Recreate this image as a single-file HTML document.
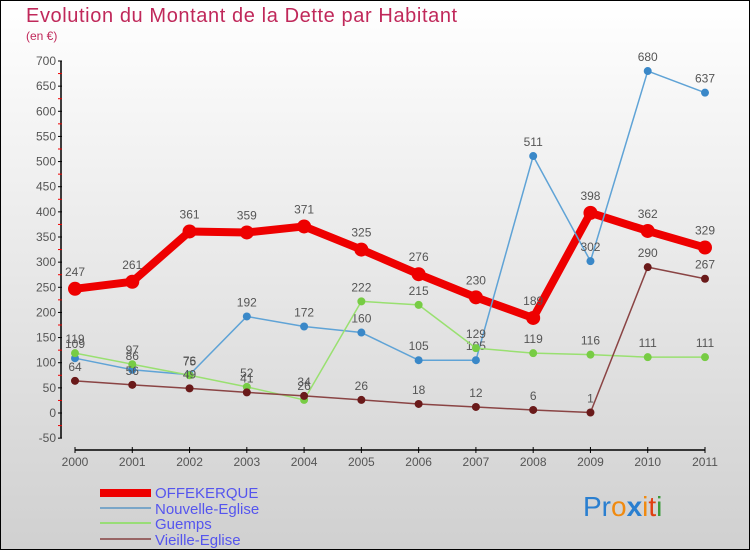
<!DOCTYPE html>
<html><head><meta charset="utf-8"><style>
html,body{margin:0;padding:0}
body{width:750px;height:550px;overflow:hidden;font-family:"Liberation Sans","DejaVu Sans",sans-serif}
</style></head><body>
<svg id="chart" width="750" height="550" viewBox="0 0 750 550" xmlns="http://www.w3.org/2000/svg">
<defs><linearGradient id="bg" x1="0" y1="0" x2="0" y2="1"><stop offset="0" stop-color="#ffffff"/><stop offset="1" stop-color="#d0d0d0"/></linearGradient></defs>
<rect x="0.5" y="0.5" width="749" height="549" fill="url(#bg)" stroke="#000"/>
<text x="26" y="22" font-size="20" fill="#c0285a" letter-spacing="0.6" font-weight="300">Evolution du Montant de la Dette par Habitant</text>
<text x="26" y="40" font-size="12" fill="#c0285a">(en €)</text>
<g id="axes"></g>
<g id="series"></g>
<g>
<rect x="100" y="489" width="51" height="8" fill="#e00"/>
<text x="155" y="498" font-size="15" fill="#5555ee">OFFEKERQUE</text>
<rect x="100" y="507" width="51" height="2" fill="#7aa6c8"/>
<text x="155" y="514" font-size="15" fill="#5555ee">Nouvelle-Eglise</text>
<rect x="100" y="522" width="51" height="2" fill="#99dd77"/>
<text x="155" y="529" font-size="15" fill="#5555ee">Guemps</text>
<rect x="100" y="538" width="51" height="2" fill="#996666"/>
<text x="155" y="545" font-size="15" fill="#5555ee">Vieille-Eglise</text>
</g>
<text x="583" y="516" font-size="28"><tspan fill="#2a7fd0">Pr</tspan><tspan fill="#f08a10">o</tspan><tspan fill="#2a7fd0" font-weight="bold">x</tspan><tspan fill="#f08a10">i</tspan><tspan fill="#e04010">t</tspan><tspan fill="#3a9a3a">i</tspan></text>
</svg>
<script>
const years = ["2000","2001","2002","2003","2004","2005","2006","2007","2008","2009","2010","2011"];
const offekerque = [247,261,361,359,371,325,276,230,189,398,362,329];
const nouvelleEglise = [109,86,76,192,172,160,105,105,511,302,680,637];
const guemps = [119,97,75,52,26,222,215,129,119,116,111,111];
const vieilleEglise = [64,56,49,41,34,26,18,12,6,1,290,267];
const yTicks = [-50,0,50,100,150,200,250,300,350,400,450,500,550,600,650,700];

const NS="http://www.w3.org/2000/svg";
const xS = i => 75 + i*(630/11);
const yS = v => 413 - v*(352/700);
function mk(tag, attrs, parent){const e=document.createElementNS(NS,tag);for(const k in attrs)e.setAttribute(k,attrs[k]);parent.appendChild(e);return e;}
const axes=document.getElementById('axes');
const ax1=mk('line',{x1:61,y1:yS(700),x2:61,y2:yS(-50),stroke:'#000','stroke-width':1.5},axes);


const ax2=mk('line',{x1:75,y1:450,x2:705,y2:450,stroke:'#000','stroke-width':1.5},axes);


yTicks.forEach(t=>{
  const y=yS(t);
  const tk=mk('line',{x1:58,y1:y,x2:62,y2:y,stroke:'#000'},axes);
  
  
  if(t<700){const m=mk('line',{x1:58,y1:yS(t+25),x2:62,y2:yS(t+25),stroke:'#e00'},axes);
  
  }
  const tx=mk('text',{x:56,y:y+4,'font-size':12,fill:'#555','text-anchor':'end'},axes);
  tx.textContent=t;
  
  
});
years.forEach((yr,i)=>{
  const x=xS(i);
  const tk=mk('line',{x1:x,y1:447,x2:x,y2:453,stroke:'#000'},axes);
  
  
  const tx=mk('text',{x:x,y:466,'font-size':12,fill:'#555','text-anchor':'middle'},axes);
  tx.textContent=yr;
  
  
});
const sg=document.getElementById('series');
function drawSeries(vals,name,color,dot,w,r){
  const g=mk('g',{},sg);
  
  
  const pl=mk('polyline',{points:vals.map((v,i)=>xS(i)+','+yS(v)).join(' '),fill:'none',stroke:color,'stroke-width':w,'stroke-linejoin':'round'},g);
  
  
  vals.forEach((v,i)=>{
    const c=mk('circle',{cx:xS(i),cy:yS(v),r:r,fill:dot},g);
    
    
    const t=mk('text',{x:xS(i),y:yS(v)-10-(r>5?3:0),'font-size':12,fill:'#555','text-anchor':'middle'},g);
    t.textContent=v;
    
    
  });
}
drawSeries(offekerque,'offekerque','#ee0000','#ee0000',8,7);
drawSeries(nouvelleEglise,'nouvelle-eglise','#5fa3d6','#3a88c8',1.5,4);
drawSeries(guemps,'guemps','#99e070','#77cc44',1.5,4);
drawSeries(vieilleEglise,'vieille-eglise','#8a4444','#6a1a1a',1.5,4);
</script>
</body></html>
